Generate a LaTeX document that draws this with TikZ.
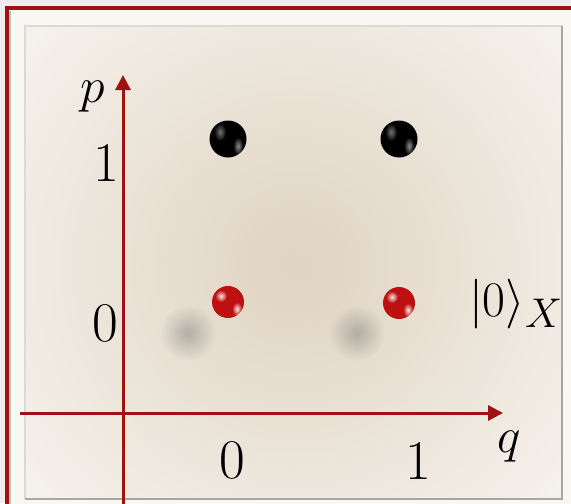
\documentclass[tikz,border=0pt]{standalone}
\usepackage{amsmath,amssymb}
\usepackage{xcolor}
\usepackage{tikz}
\usetikzlibrary{positioning, arrows.meta, calc}
\usetikzlibrary{fadings, shadings}
\definecolor{cR}{RGB}{158,18,18}
\definecolor{cBall}{RGB}{190,16,16}
\definecolor{cPage}{RGB}{238,238,238}
\definecolor{cBevel}{RGB}{250,247,242}
\definecolor{cPanel}{RGB}{245,241,235}
\definecolor{cSpot}{RGB}{224,212,194}
\tikzfading[name=softspot, inner color=transparent!0, outer color=transparent!100]

\begin{document}
\begin{tikzpicture}[x=0.5pt, y=-0.5pt,
                    axis/.style={draw=cR, line width=1.5pt, -{Triangle[length=7.5pt, width=7.5pt]}},
                    lbl/.style={inner sep=0pt, font=\fontsize{28}{32}\selectfont},
                    blackball/.style={circle, inner sep=0pt, minimum size=18.5pt, fill=black},
                    redball/.style={circle, inner sep=0pt, minimum size=16pt, fill=cBall},
                    gloss/.style={fill=white, path fading=softspot},
                    blur/.style={fill=black!60, opacity=0.4, path fading=softspot}]

    % Frame and background
    \useasboundingbox (0,0) rectangle (571,503);
    \clip (0,0) rectangle (571,503);
    \fill[cPage] (0,0) rectangle (571,503);
    \fill[cBevel] (7,8) rectangle (600,530);
    \draw[cR, line width=1.6pt] (7,530) -- (7,8) -- (600,8);
    \draw[black!25, line width=0.8pt] (10,530) -- (10,11);
    \fill[cPanel] (25,26) rectangle (562,499);
    \begin{scope}
        \clip (25,26) rectangle (562,499);
        \fill[cSpot, path fading=softspot] (295,265) circle (340);
        % Shadows
        \fill[blur] (188,333) circle (28);
        \fill[blur] (357,333) circle (28);
    \end{scope}
    \draw[black!15, line width=0.6pt] (25,499) -- (25,26) -- (562,26);
    \draw[black!35, line width=0.8pt] (25,499) -- (562,499) -- (562,26);

    % Points (q, p)
    \node[blackball] (b01) at (228,139) {};
    \node[blackball] (b11) at (399,139) {};
    \node[redball] (r00) at (228,302) {};
    \node[redball] (r10) at (399,303) {};

    % Gloss on the points
    \foreach \b in {b01, b11} {
        \fill[gloss, opacity=0.45] ($(\b)+(-8,-7)$) ellipse (6 and 9);
        \fill[gloss, opacity=0.55] ($(\b)+(10,7)$) ellipse (5 and 9);
    }
    \foreach \b in {r00, r10} {
        \fill[gloss, opacity=0.9] ($(\b)+(-7,-6)$) circle (6);
        \fill[gloss, opacity=0.9] ($(\b)+(9,7)$) ellipse (5 and 7);
    }

    % Axes
    \coordinate (qStart) at (20,413);
    \coordinate (qEnd) at (503,413);
    \coordinate (pStart) at (123,510);
    \coordinate (pEnd) at (123,75);
    \draw[axis] (qStart) -- (qEnd);
    \draw[axis] (pStart) -- (pEnd);

    % Labels
    \node[lbl] (pLab) at (93,97) {$p$};
    \node[lbl] (p1) at (106,163) {1};
    \node[lbl] (p0) at (105,323) {0};
    \node[lbl] (q0) at (232,460) {0};
    \node[lbl] (q1) at (418,461) {1};
    \node[lbl] (qLab) at (509,447) {$q$};
    \node[lbl] (ket) at (516,304) {$|0\rangle_X$};

\end{tikzpicture}
\end{document}
